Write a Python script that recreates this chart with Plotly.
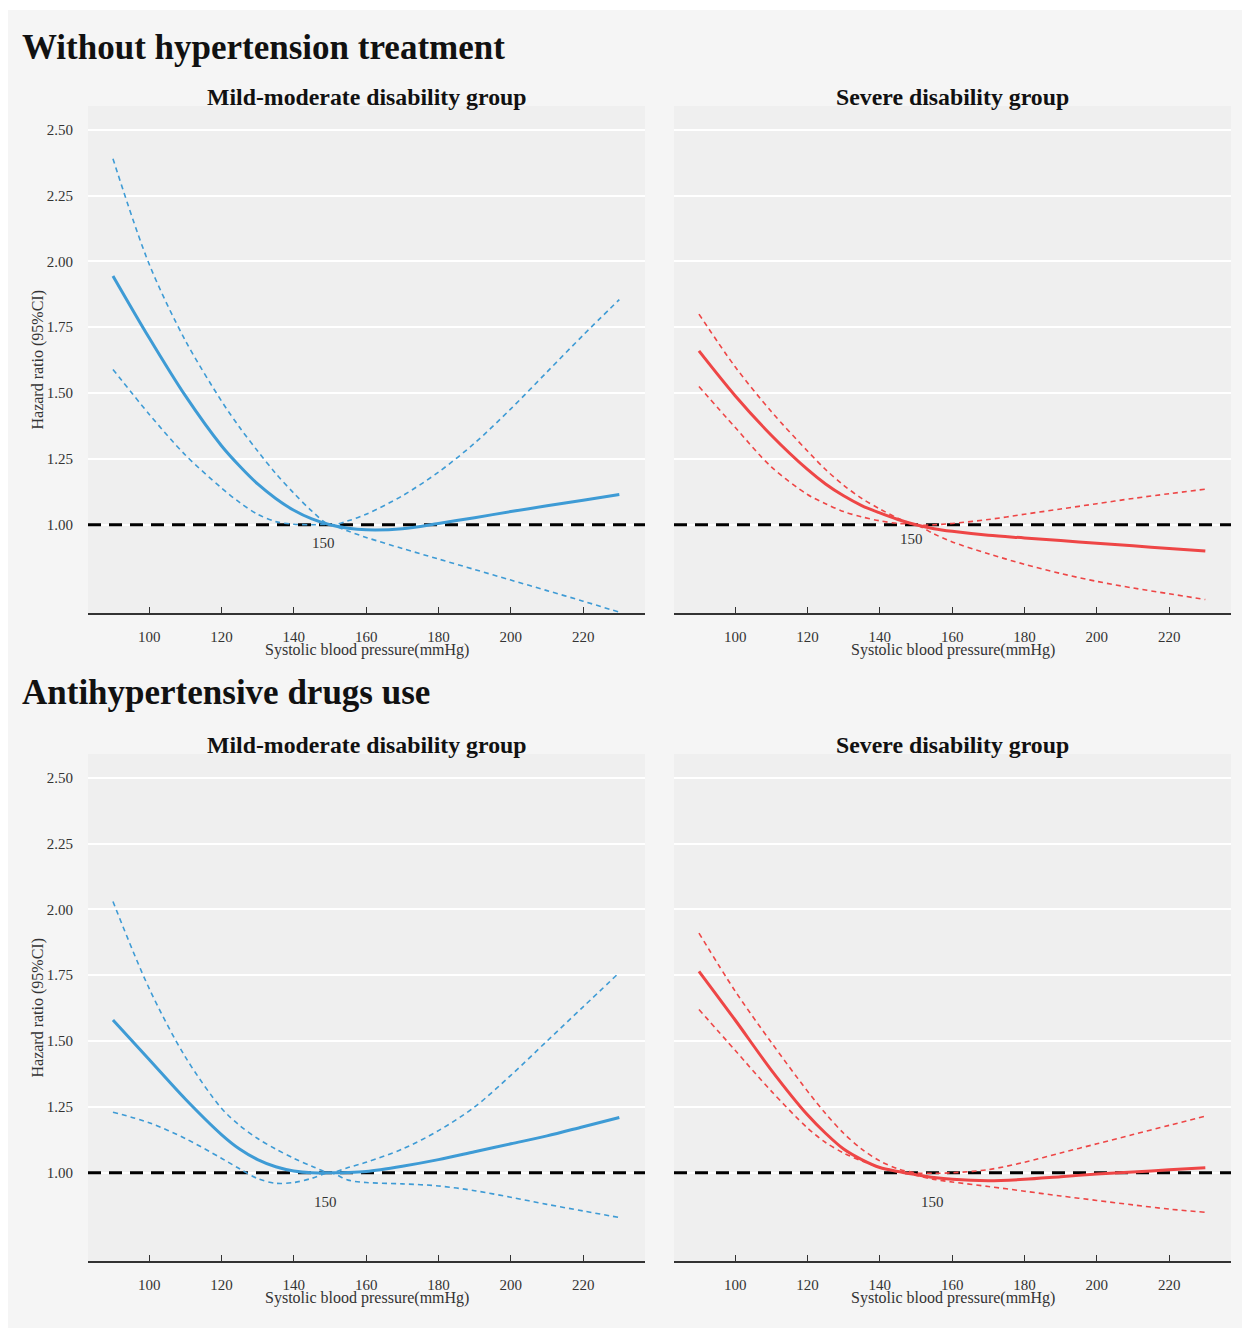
import plotly.graph_objects as go

# page body adds an 8px margin; the figure is sized and offset to compensate
OFF = 8
W, H = 1242, 1322

# Systolic blood pressure grid (mmHg)
SBP = [90, 100, 110, 120, 125, 130, 135, 140, 145, 150, 155, 160, 170, 180, 190, 200, 210, 220, 230]

# Without hypertension treatment - Mild-moderate disability group
nt_mild_hr = [1.945, 1.71, 1.49, 1.30, 1.223, 1.155, 1.10, 1.055, 1.022, 1.0, 0.987, 0.981, 0.985, 1.005, 1.027, 1.05, 1.072, 1.093, 1.115]
nt_mild_hi = [2.39, 1.99, 1.70, 1.47, 1.37, 1.28, 1.195, 1.12, 1.052, 1.0, 1.015, 1.04, 1.11, 1.20, 1.31, 1.44, 1.58, 1.72, 1.855]
nt_mild_lo = [1.59, 1.42, 1.265, 1.14, 1.085, 1.04, 1.012, 1.002, 1.0, 1.0, 0.976, 0.952, 0.91, 0.87, 0.83, 0.79, 0.75, 0.71, 0.668]

# Without hypertension treatment - Severe disability group
nt_sev_hr = [1.66, 1.49, 1.34, 1.21, 1.155, 1.11, 1.073, 1.045, 1.02, 1.0, 0.985, 0.975, 0.96, 0.95, 0.94, 0.93, 0.92, 0.91, 0.90]
nt_sev_hi = [1.80, 1.60, 1.43, 1.28, 1.21, 1.15, 1.10, 1.06, 1.025, 1.0, 1.0, 1.005, 1.02, 1.04, 1.06, 1.08, 1.10, 1.118, 1.135]
nt_sev_lo = [1.525, 1.37, 1.22, 1.115, 1.08, 1.05, 1.03, 1.015, 1.005, 1.0, 0.965, 0.935, 0.89, 0.85, 0.815, 0.785, 0.76, 0.738, 0.716]

# Antihypertensive drugs use - Mild-moderate disability group
ad_mild_hr = [1.58, 1.43, 1.28, 1.145, 1.09, 1.05, 1.023, 1.007, 1.0, 1.0, 1.001, 1.005, 1.025, 1.05, 1.08, 1.11, 1.14, 1.175, 1.21]
ad_mild_hi = [2.03, 1.70, 1.44, 1.245, 1.18, 1.13, 1.09, 1.055, 1.025, 1.0, 1.02, 1.04, 1.09, 1.16, 1.25, 1.37, 1.50, 1.63, 1.76]
ad_mild_lo = [1.23, 1.19, 1.13, 1.055, 1.015, 0.978, 0.96, 0.963, 0.979, 1.0, 0.972, 0.963, 0.958, 0.95, 0.932, 0.907, 0.88, 0.855, 0.83]

# Antihypertensive drugs use - Severe disability group
ad_sev_hr = [1.765, 1.58, 1.39, 1.22, 1.15, 1.09, 1.05, 1.02, 1.005, 0.993, 0.982, 0.975, 0.97, 0.975, 0.985, 0.995, 1.003, 1.011, 1.019]
ad_sev_hi = [1.91, 1.69, 1.495, 1.31, 1.225, 1.15, 1.09, 1.045, 1.015, 1.0, 0.998, 1.0, 1.012, 1.04, 1.075, 1.11, 1.145, 1.18, 1.215]
ad_sev_lo = [1.62, 1.465, 1.31, 1.17, 1.115, 1.075, 1.045, 1.02, 1.005, 0.99, 0.975, 0.965, 0.948, 0.93, 0.912, 0.895, 0.878, 0.862, 0.85]

REF_HR = 1.0
X_TICKS = [100, 120, 140, 160, 180, 200, 220]
Y_TICKS = [1.00, 1.25, 1.50, 1.75, 2.00, 2.25, 2.50]
Y_TICK_TEXT = ["1.00", "1.25", "1.50", "1.75", "2.00", "2.25", "2.50"]

SECTION_TITLES = ["Without hypertension treatment", "Antihypertensive drugs use"]
GROUP_TITLES = ["Mild-moderate disability group", "Severe disability group"]
X_TITLE = "Systolic blood pressure(mmHg)"
Y_TITLE = "Hazard ratio (95%CI)"

BLUE = "#3e9bd5"
RED = "#ee4646"
SERIF = "Liberation Serif, Times New Roman, serif"

# layout geometry in screen pixels
COLS = [(88, 645), (674, 1231)]
ROWS = [(106, 613), (754, 1261)]
XR = [83.1, 237.1]
YR = [0.665, 2.59]


def fx(p):
    return (p - OFF) / W


def fy(p):
    return 1 - (p - OFF) / H


panels = [
    dict(row=0, col=0, color=BLUE, hr=nt_mild_hr, hi=nt_mild_hi, lo=nt_mild_lo, lab=(148.2, 0.932)),
    dict(row=0, col=1, color=RED, hr=nt_sev_hr, hi=nt_sev_hi, lo=nt_sev_lo, lab=(148.7, 0.947)),
    dict(row=1, col=0, color=BLUE, hr=ad_mild_hr, hi=ad_mild_hi, lo=ad_mild_lo, lab=(148.7, 0.888)),
    dict(row=1, col=1, color=RED, hr=ad_sev_hr, hi=ad_sev_hi, lo=ad_sev_lo, lab=(154.6, 0.888)),
]

fig = go.Figure()
shapes = []
annotations = []

# outer background
shapes.append(dict(type="rect", xref="paper", yref="paper", x0=fx(8), x1=fx(1250), y0=fy(1328), y1=fy(10),
                   fillcolor="#f5f5f5", line=dict(width=0), layer="below"))

for i, p in enumerate(panels):
    n = "" if i == 0 else str(i + 1)
    xa, ya = "x" + n, "y" + n
    c0, c1 = COLS[p["col"]]
    r0, r1 = ROWS[p["row"]]
    shapes.append(dict(type="rect", xref="paper", yref="paper", x0=fx(c0), x1=fx(c1), y0=fy(r1), y1=fy(r0),
                       fillcolor="#efefef", line=dict(width=0), layer="below"))
    # reference line HR = 1
    fig.add_trace(go.Scatter(x=XR, y=[REF_HR, REF_HR], mode="lines", xaxis=xa, yaxis=ya, showlegend=False,
                             line=dict(color="black", width=3.2, dash="13px,8px"), hoverinfo="skip"))
    for key, w, dash in [("hi", 1.6, "5px,4px"), ("lo", 1.6, "5px,4px"), ("hr", 3, "solid")]:
        fig.add_trace(go.Scatter(x=SBP, y=p[key], mode="lines", xaxis=xa, yaxis=ya, showlegend=False,
                                 line=dict(color=p["color"], width=w, dash=dash, shape="spline", smoothing=0.9),
                                 hoverinfo="skip"))
    axis_font = dict(family=SERIF, size=15, color="#333")
    fig.update_layout({
        ("xaxis" + n): dict(domain=[fx(c0), fx(c1)], range=XR, anchor=ya, tickvals=X_TICKS,
                            showline=True, linecolor="#333", linewidth=1.5, ticks="inside", ticklen=6,
                            tickwidth=1.4, tickcolor="#333", showgrid=False, zeroline=False,
                            tickfont=axis_font, ticklabelstandoff=9, automargin=False, fixedrange=True),
        ("yaxis" + n): dict(domain=[fy(r1), fy(r0)], range=YR, anchor=xa, tickvals=Y_TICKS,
                            ticktext=Y_TICK_TEXT, showgrid=True, gridcolor="white", gridwidth=2.2,
                            showline=False, zeroline=False, ticks="", showticklabels=(p["col"] == 0),
                            tickfont=axis_font, ticklabelstandoff=14, automargin=False, fixedrange=True),
    })
    # group subtitle
    annotations.append(dict(text="<b>" + GROUP_TITLES[p["col"]] + "</b>", xref="paper", yref="paper",
                            x=fx((c0 + c1) / 2), y=fy(r0 - 9), xanchor="center", yanchor="middle",
                            showarrow=False, font=dict(family=SERIF, size=23.8, color="#111")))
    # x title
    annotations.append(dict(text=X_TITLE, xref="paper", yref="paper", x=fx((c0 + c1) / 2), y=fy(r1 + 37),
                            xanchor="center", yanchor="middle", showarrow=False,
                            font=dict(family=SERIF, size=16, color="#333")))
    # "150" label
    annotations.append(dict(text="150", xref=xa, yref=ya, x=p["lab"][0], y=p["lab"][1], showarrow=False,
                            xanchor="center", yanchor="middle", font=dict(family=SERIF, size=15, color="#333")))
    if p["col"] == 0:
        annotations.append(dict(text=Y_TITLE, xref="paper", yref="paper", x=fx(38), y=fy((r0 + r1) / 2),
                                textangle=-90, xanchor="center", yanchor="middle", showarrow=False,
                                font=dict(family=SERIF, size=16, color="#333")))

for t, yy in zip(SECTION_TITLES, [48, 693]):
    annotations.append(dict(text="<b>" + t + "</b>", xref="paper", yref="paper", x=fx(20), y=fy(yy),
                            xanchor="left", yanchor="middle", showarrow=False,
                            font=dict(family=SERIF, size=35, color="#111")))

fig.update_layout(width=W, height=H, margin=dict(l=0, r=0, t=0, b=0), paper_bgcolor="white",
                  plot_bgcolor="rgba(0,0,0,0)", shapes=shapes, annotations=annotations, showlegend=False)

fig.write_html("out.html")
